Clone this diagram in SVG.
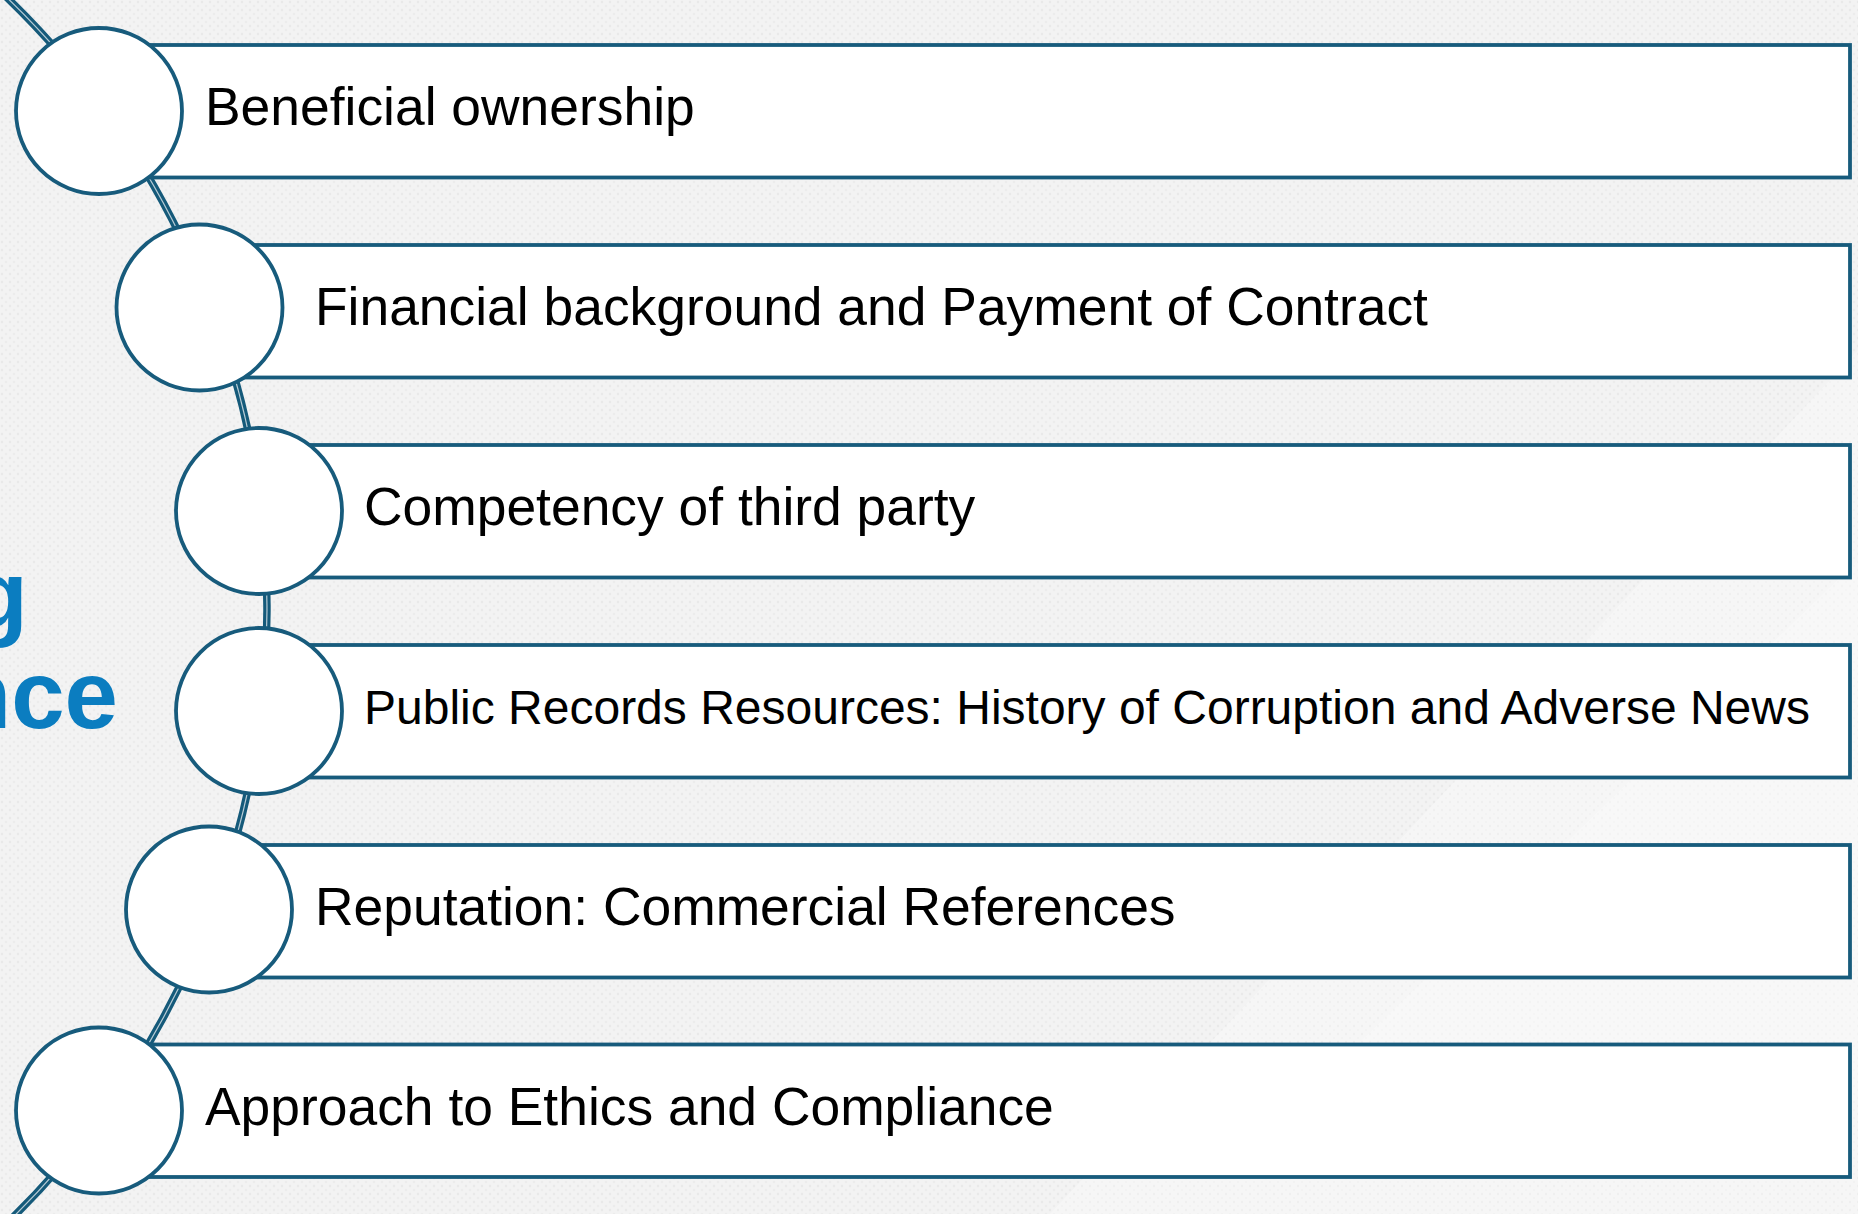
<svg xmlns="http://www.w3.org/2000/svg" width="1858" height="1214" viewBox="0 0 1858 1214">
  <defs>
    <pattern id="dots" width="8" height="8" patternUnits="userSpaceOnUse">
      <rect width="8" height="8" fill="#f3f3f3"/>
      <circle cx="2" cy="2" r="1.2" fill="#e9e9e9"/>
      <circle cx="6" cy="6" r="1.2" fill="#ececec"/>
    </pattern>
    <style>
      .bar { fill: #ffffff; stroke: #175b7c; stroke-width: 3.8; }
      .dot { fill: #ffffff; stroke: #175b7c; stroke-width: 3.8; }
      .label { font-family: "Liberation Sans", Arial, sans-serif; font-size: 53.4px; fill: #000000; }
      .label.small { font-size: 48px; }
      .title { font-family: "Liberation Sans", Arial, sans-serif; font-weight: bold; font-size: 96px; fill: #0b7dc0; }
      .rail-outer { fill: none; stroke: #155a7a; stroke-width: 7.5; }
      .rail-inner { fill: none; stroke: #b8ccd6; stroke-width: 1.2; }
    </style>
  </defs>

  <!-- backdrop -->
  <rect x="0" y="0" width="1858" height="1214" fill="url(#dots)"/>
  <polygon points="1858,350 1858,1214 1050,1214" fill="#ffffff" opacity="0.3"/>
  <polygon points="1858,560 1858,1100 1300,1100" fill="#ffffff" opacity="0.25"/>

  <!-- heading fragment at the left edge -->
  <text class="title" x="28" y="628" text-anchor="end">g</text>
  <text class="title" x="118" y="728" text-anchor="end">nce</text>

  <!-- curved rail linking the markers -->
  <g id="connectors">
    <path class="rail-outer" d="M -1,-10 A 852 852 0 0 1 6,1224"/>
    <path class="rail-inner" d="M -1,-10 A 852 852 0 0 1 6,1224"/>
  </g>

  <g id="item1">
    <rect class="bar" x="99" y="45" width="1751" height="132.5"/>
    <circle class="dot" cx="99" cy="111" r="83"/>
    <text class="label" x="205" y="125">Beneficial ownership</text>
  </g>

  <g id="item2">
    <rect class="bar" x="200" y="245" width="1650" height="132.5"/>
    <circle class="dot" cx="199.5" cy="307.5" r="83"/>
    <text class="label" x="315" y="325">Financial background and Payment of Contract</text>
  </g>

  <g id="item3">
    <rect class="bar" x="259" y="445" width="1591" height="132.5"/>
    <circle class="dot" cx="259" cy="511" r="83"/>
    <text class="label" x="364" y="525">Competency of third party</text>
  </g>

  <g id="item4">
    <rect class="bar" x="259" y="645" width="1591" height="132.5"/>
    <circle class="dot" cx="259" cy="711" r="83"/>
    <text class="label small" x="364" y="724">Public Records Resources: History of Corruption and Adverse News</text>
  </g>

  <g id="item5">
    <rect class="bar" x="209" y="845" width="1641" height="132.5"/>
    <circle class="dot" cx="209" cy="909.5" r="83"/>
    <text class="label" x="315" y="925">Reputation: Commercial References</text>
  </g>

  <g id="item6">
    <rect class="bar" x="99" y="1044.5" width="1751" height="132.5"/>
    <circle class="dot" cx="99" cy="1110.5" r="83"/>
    <text class="label" x="205" y="1125">Approach to Ethics and Compliance</text>
  </g>
</svg>
